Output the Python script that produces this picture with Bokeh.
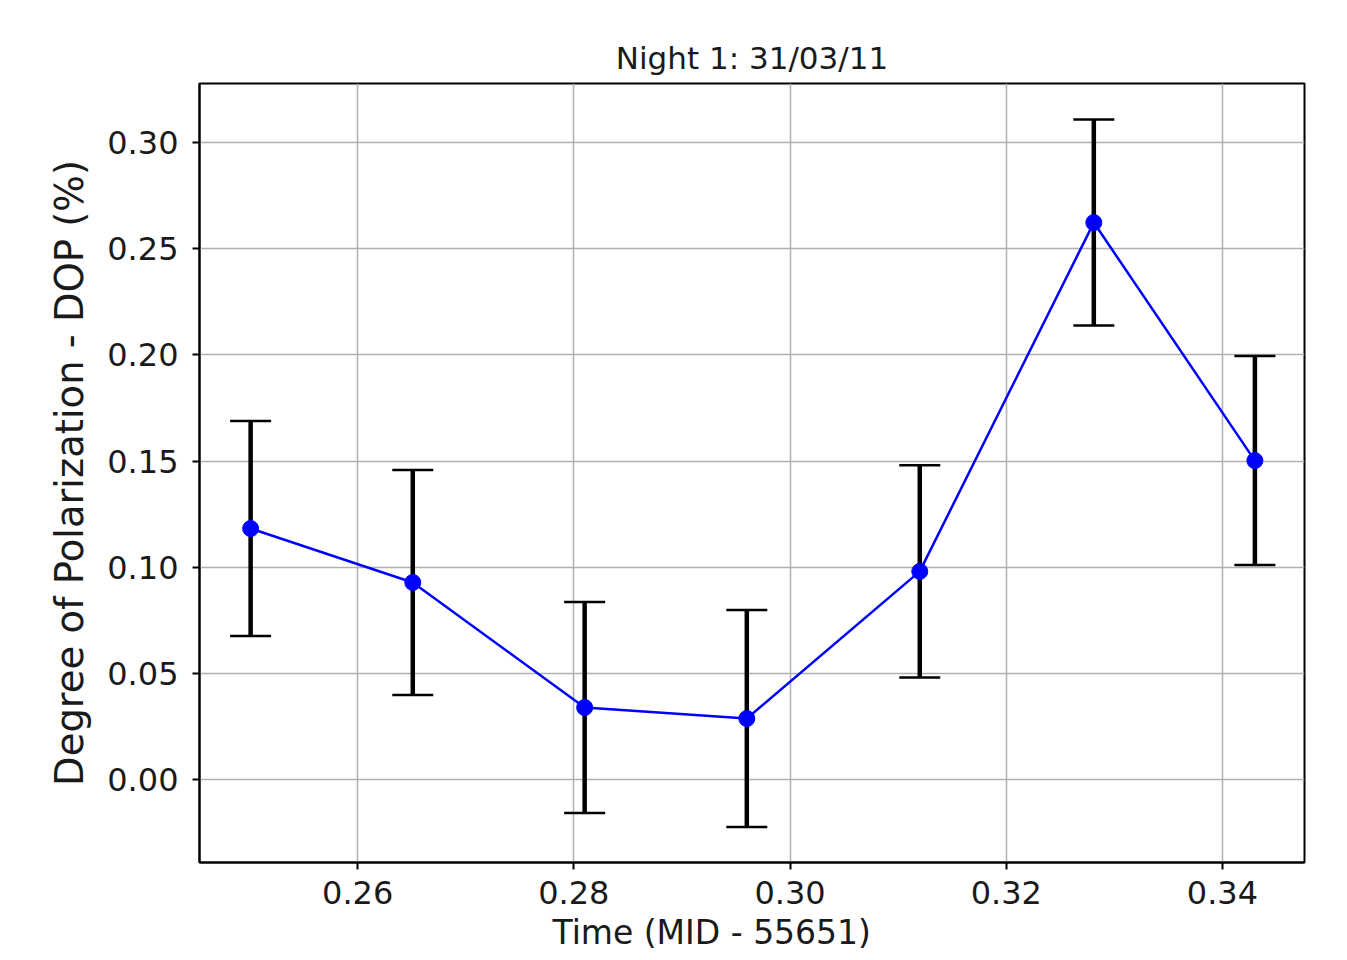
from bokeh.plotting import figure
from bokeh.models import FixedTicker, PrintfTickFormatter, ColumnDataSource, Title
from bokeh.embed import file_html
from bokeh.resources import INLINE

# Data
time_mjd = [0.2501, 0.2651, 0.2810, 0.2960, 0.3120, 0.3281, 0.3430]
dop = [0.1182, 0.0928, 0.0339, 0.0287, 0.0980, 0.2623, 0.1502]
dop_err = [0.0506, 0.0530, 0.0497, 0.0511, 0.0500, 0.0485, 0.0492]

x_ticks = [0.26, 0.28, 0.30, 0.32, 0.34]
y_ticks = [0.00, 0.05, 0.10, 0.15, 0.20, 0.25, 0.30]

title_text = "Night 1: 31/03/11"
x_label = "Time (MID - 55651)"
y_label = "Degree of Polarization - DOP (%)"

upper = [v + e for v, e in zip(dop, dop_err)]
lower = [v - e for v, e in zip(dop, dop_err)]
src = ColumnDataSource(dict(x=time_mjd, y=dop, up=upper, lo=lower))

FONT = "DejaVu Sans"

p = figure(frame_width=1105, frame_height=779, output_backend="svg", toolbar_location=None,
           x_range=(0.24537, 0.34759), y_range=(-0.0391, 0.3278),
           title=title_text,
           min_border_left=199, min_border_right=27, min_border_top=83, min_border_bottom=20)

p.title.text_font = FONT
p.title.text_font_size = "31px"
p.title.text_font_style = "normal"
p.title.align = "center"
p.title.text_color = "#1a1a1a"
p.title.standoff = 15

p.background_fill_color = "white"
p.border_fill_color = "white"
p.outline_line_color = "black"
p.outline_line_width = 2
p.outline_line_alpha = 1.0

for ax in (p.xaxis[0], p.yaxis[0]):
    ax.axis_line_color = "black"
    ax.axis_line_width = 2
    ax.major_tick_line_color = "black"
    ax.major_tick_line_width = 2
    ax.major_tick_out = 7
    ax.major_tick_in = 0
    ax.minor_tick_line_color = None
    ax.major_label_text_font = FONT
    ax.major_label_text_font_size = "32px"
    ax.major_label_text_color = "#1a1a1a"
    ax.axis_label_text_font = FONT
    ax.axis_label_text_font_style = "normal"
    ax.axis_label_text_color = "#1a1a1a"
    ax.formatter = PrintfTickFormatter(format="%.2f")

p.yaxis.axis_label_text_font_size = "38.5px"
p.xaxis.ticker = FixedTicker(ticks=x_ticks)
p.yaxis.ticker = FixedTicker(ticks=y_ticks)
p.yaxis.axis_label = y_label
p.xaxis.major_label_standoff = 11
p.yaxis.major_label_standoff = 14
p.yaxis.axis_label_standoff = 12

p.grid.grid_line_color = "#b0b0b0"
p.grid.grid_line_width = 1.5

# error bars
p.segment(x0="x", y0="lo", x1="x", y1="up", source=src, line_color="black", line_width=4.5)
p.scatter(x="x", y="up", source=src, marker="dash", size=41, line_color="black", line_width=2.5)
p.scatter(x="x", y="lo", source=src, marker="dash", size=41, line_color="black", line_width=2.5)

# data line + markers
p.line(x="x", y="y", source=src, line_color="blue", line_width=2.5)
p.scatter(x="x", y="y", source=src, marker="circle", size=16, fill_color="blue", line_color="blue")

# x-axis label, placed slightly left of centre as in the reference
xlab = Title(text=x_label, align="left", offset=353, text_font=FONT, text_font_size="33px",
             text_font_style="normal", text_color="#1a1a1a", standoff=9)
p.add_layout(xlab, "below")

open("out.html", "w").write(file_html(p, INLINE))
